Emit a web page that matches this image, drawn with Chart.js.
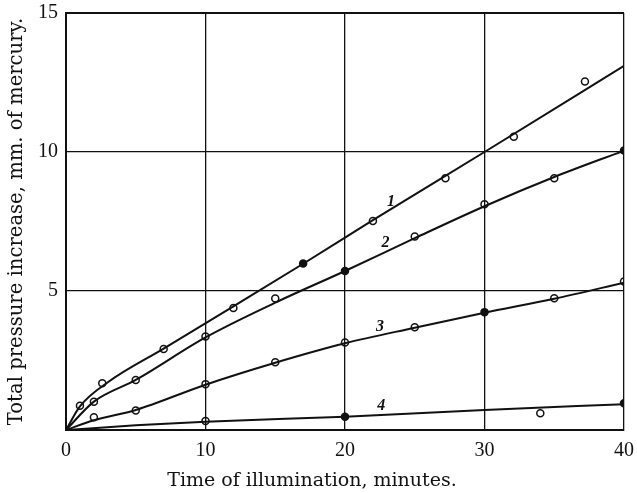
<!DOCTYPE html>
<html>
<head>
<meta charset="utf-8">
<script src="https://cdn.jsdelivr.net/npm/chart.js@4.4.1/dist/chart.umd.min.js"></script>
<style>
  html, body { margin: 0; padding: 0; background: #fff; }
  canvas { display: block; }
</style>
</head>
<body>
<canvas id="pressureChart" width="637" height="493"></canvas>
<script>
// fitted curves (time in minutes, pressure in mm Hg)
const curve1T = [0, 1, 3, 7, 12, 17, 22, 30, 40];
const curve1V = [0, 0.85, 1.72, 2.93, 4.45, 5.98, 7.55, 10.0, 13.1];
const curve2T = [0, 2, 5, 10, 15, 20, 25, 30, 35, 40];
const curve2V = [0, 1.02, 1.8, 3.33, 4.58, 5.72, 6.9, 8.05, 9.1, 10.05];
const curve3T = [0, 2, 5, 10, 15, 20, 25, 30, 35, 40];
const curve3V = [0, 0.35, 0.72, 1.63, 2.42, 3.12, 3.68, 4.22, 4.72, 5.3];
const curve4T = [0, 5, 10, 20, 30, 40];
const curve4V = [0, 0.17, 0.3, 0.48, 0.72, 0.93];

// observed points, open and filled circles
const openT = [1, 2.6, 7, 12, 22, 27.2, 32.1, 37.2,
               2, 5, 10, 15, 25, 30, 35,
               2, 5, 10, 15, 20, 25, 35, 40,
               10, 34];
const openV = [0.87, 1.68, 2.91, 4.39, 7.52, 9.06, 10.55, 12.54,
               1.02, 1.8, 3.36, 4.73, 6.96, 8.12, 9.06,
               0.46, 0.7, 1.65, 2.44, 3.15, 3.7, 4.74, 5.34,
               0.32, 0.6];
const filledT = [17, 20, 40, 30, 20, 40];
const filledV = [5.99, 5.72, 10.05, 4.24, 0.48, 0.96];

// curve numbers, anchored in data units
const curveNames = ['1', '2', '3', '4'];
const curveNameT = [23.3, 22.9, 22.5, 22.6];
const curveNameV = [8.2, 6.73, 3.72, 0.87];

const xTicks = [0, 10, 20, 30, 40];
const yTicks = [5, 10, 15];

const pts = (xs, ys) => xs.map((x, i) => ({ x: x, y: ys[i] }));
const serif = "'Liberation Serif', 'DejaVu Serif', serif";
const wideSerif = "'DejaVu Serif', serif";

function curve(xs, ys) {
    return {
        type: 'line',
        data: pts(xs, ys),
        borderColor: '#111',
        borderWidth: 2,
        pointRadius: 0,
        cubicInterpolationMode: 'monotone',
        fill: false,
        order: 2
    };
}

const curveLabels = {
    id: 'curveLabels',
    afterDatasetsDraw(chart) {
        const ctx = chart.ctx;
        const xs = chart.scales.x, ys = chart.scales.y;
        ctx.save();
        ctx.fillStyle = '#111';
        ctx.font = "bold italic 16px " + serif;
        ctx.textAlign = 'center';
        ctx.textBaseline = 'middle';
        curveNames.forEach((n, i) => {
            ctx.fillText(n, xs.getPixelForValue(curveNameT[i]), ys.getPixelForValue(curveNameV[i]));
        });
        // x axis title, set left of centre as in the original
        ctx.font = "19px " + wideSerif;
        ctx.fillText('Time of illumination, minutes.', chart.chartArea.left + 246, 481);
        ctx.restore();
    }
};

new Chart(document.getElementById('pressureChart'), {
    type: 'scatter',
    data: {
        datasets: [
            curve(curve1T, curve1V),
            curve(curve2T, curve2V),
            curve(curve3T, curve3V),
            curve(curve4T, curve4V),
            {
                data: pts(openT, openV),
                pointRadius: 3.5,
                pointBorderWidth: 1.5,
                pointBorderColor: '#111',
                pointBackgroundColor: 'rgba(0,0,0,0)',
                showLine: false,
                order: 0
            },
            {
                data: pts(filledT, filledV),
                pointRadius: 3.5,
                pointBorderWidth: 1.5,
                pointBorderColor: '#111',
                pointBackgroundColor: '#111',
                showLine: false,
                order: 0
            }
        ]
    },
    options: {
        responsive: false,
        animation: false,
        layout: { padding: { left: 0, top: 13, right: 13, bottom: 0 } },
        plugins: { legend: { display: false }, tooltip: { enabled: false } },
        scales: {
            x: {
                type: 'linear',
                min: 0,
                max: 40,
                afterFit: s => { s.height = 63; s.paddingLeft = 0; s.paddingRight = 0; },
                afterBuildTicks: s => { s.ticks = xTicks.map(v => ({ value: v })); },
                ticks: { color: '#111', padding: 9, font: { family: serif, size: 20 } },
                grid: { color: '#111', lineWidth: 1.3, drawTicks: false },
                border: { color: '#111', width: 2 }
            },
            y: {
                min: 0,
                max: 15,
                afterFit: s => { s.width = 66; s.paddingTop = 0; s.paddingBottom = 0; },
                afterBuildTicks: s => { s.ticks = [0].concat(yTicks).map(v => ({ value: v })); },
                ticks: {
                    color: '#111', padding: 8, font: { family: serif, size: 20 },
                    callback: v => (v === 0 ? '' : v)
                },
                grid: { color: '#111', lineWidth: c => (c.tick && c.tick.value === 15 ? 2 : 1.3), drawTicks: false },
                border: { color: '#111', width: 2 },
                title: {
                    display: true,
                    text: 'Total pressure increase, mm. of mercury.',
                    color: '#111',
                    padding: { top: 5, bottom: 0 },
                    font: { family: wideSerif, size: 19.6 }
                }
            }
        }
    },
    plugins: [curveLabels]
});
</script>
</body>
</html>
